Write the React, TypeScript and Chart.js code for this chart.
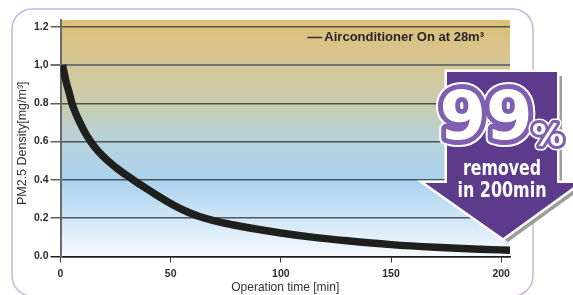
import React, { useEffect, useRef } from 'react';
import { Chart, registerables } from 'chart.js';

Chart.register(...registerables);

// ---- data ----
const timeMin = [0.9, 2.5, 4, 5.2, 7, 9, 11, 13.4, 16, 19, 22, 26, 30, 33.8, 38, 43, 48, 53, 58, 63, 70, 78, 86, 100, 115, 130, 150, 170, 190, 204];
const density = [1.0, 0.915, 0.853, 0.8, 0.745, 0.695, 0.65, 0.605, 0.565, 0.527, 0.495, 0.457, 0.424, 0.394, 0.362, 0.325, 0.29, 0.258, 0.231, 0.209, 0.186, 0.166, 0.149, 0.123, 0.1, 0.082, 0.062, 0.048, 0.038, 0.033];
const xTickValues = [0, 50, 100, 150, 200];
const yTickValues = [0, 0.2, 0.4, 0.6, 0.8, 1.0, 1.2];
const yTickLabels = ['0.0', '0.2', '0.4', '0.6', '0.8', '1,0', '1.2'];
const seriesLabel = 'Airconditioner On at 28m³';
const xTitle = 'Operation time [min]';
const yTitle = 'PM2.5 Density[mg/m³]';
const badgeNumber = '99';
const badgeSign = '%';
const badgeCaption = ['removed', 'in 200min'];

const FAMILY = '"Liberation Sans", Arial, Helvetica, sans-serif';
const NARROW = '"Liberation Sans Narrow", "DejaVu Sans Condensed", "Liberation Sans", sans-serif';
const PURPLE = '#5c3b8d';
const PURPLE_LIGHT = '#7e5fb0';

function roundRectPath(ctx: CanvasRenderingContext2D, x: number, y: number, w: number, h: number, r: number) {
  ctx.beginPath();
  ctx.moveTo(x + r, y);
  ctx.lineTo(x + w - r, y);
  ctx.arcTo(x + w, y, x + w, y + r, r);
  ctx.lineTo(x + w, y + h - r);
  ctx.arcTo(x + w, y + h, x + w - r, y + h, r);
  ctx.lineTo(x + r, y + h);
  ctx.arcTo(x, y + h, x, y + h - r, r);
  ctx.lineTo(x, y + r);
  ctx.arcTo(x, y, x + r, y, r);
  ctx.closePath();
}

const backgroundPlugin = {
  id: 'panelBackground',
  beforeDraw(chart: any) {
    const { ctx, chartArea: a } = chart;
    ctx.save();
    ctx.fillStyle = '#ffffff';
    ctx.fillRect(0, 0, chart.width, chart.height);
    roundRectPath(ctx, 12, 9, 521, 287, 20);
    ctx.strokeStyle = '#c6b8dd';
    ctx.lineWidth = 1.5;
    ctx.stroke();
    const g = ctx.createLinearGradient(0, a.top, 0, a.bottom);
    g.addColorStop(0, '#ddbf78');
    g.addColorStop(0.19, '#d5c796');
    g.addColorStop(0.35, '#c8ccae');
    g.addColorStop(0.51, '#b8d3dc');
    g.addColorStop(0.68, '#abd2ee');
    g.addColorStop(0.84, '#d0e6f7');
    g.addColorStop(1, '#f6fafe');
    ctx.fillStyle = g;
    ctx.fillRect(a.left, a.top, a.right - a.left, a.bottom - a.top);
    ctx.restore();
  },
};

const legendPlugin = {
  id: 'innerLegend',
  afterDatasetsDraw(chart: any) {
    const { ctx, chartArea: a } = chart;
    const label = chart.data.datasets[0].label as string;
    ctx.save();
    ctx.font = `bold 13px ${FAMILY}`;
    const w = ctx.measureText(label).width;
    const xEnd = a.right - 26;
    const x0 = xEnd - w;
    const y = a.top + 17.5;
    ctx.strokeStyle = '#333';
    ctx.lineWidth = 1.5;
    ctx.beginPath();
    ctx.moveTo(x0 - 17, y);
    ctx.lineTo(x0 - 2, y);
    ctx.stroke();
    ctx.fillStyle = '#262626';
    ctx.textAlign = 'left';
    ctx.textBaseline = 'middle';
    ctx.fillText(label, x0, y);
    ctx.restore();
  },
};

const yTitlePlugin = {
  id: 'yTitle',
  afterDraw(chart: any) {
    const { ctx, chartArea: a } = chart;
    ctx.save();
    ctx.translate(a.left - 38, (a.top + a.bottom) / 2 + 5);
    ctx.rotate(-Math.PI / 2);
    ctx.font = `12.5px ${FAMILY}`;
    ctx.fillStyle = '#333';
    ctx.textAlign = 'center';
    ctx.textBaseline = 'middle';
    ctx.fillText(yTitle, 0, 0);
    ctx.restore();
  },
};

function drawFitted(ctx: CanvasRenderingContext2D, text: string, cx: number, baseline: number, font: string, targetW: number) {
  ctx.save();
  ctx.font = font;
  const w = ctx.measureText(text).width;
  ctx.translate(cx, baseline);
  ctx.scale(targetW / w, 1);
  ctx.textAlign = 'center';
  ctx.textBaseline = 'alphabetic';
  ctx.fillText(text, 0, 0);
  ctx.restore();
}

function outlinedText(ctx: CanvasRenderingContext2D, text: string, x: number, y: number, font: string, inner: number, outer: number) {
  ctx.save();
  ctx.font = font;
  ctx.textAlign = 'center';
  ctx.textBaseline = 'alphabetic';
  ctx.lineJoin = 'round';
  ctx.strokeStyle = '#ffffff';
  ctx.lineWidth = outer;
  ctx.strokeText(text, x, y);
  ctx.strokeStyle = PURPLE_LIGHT;
  ctx.lineWidth = inner;
  ctx.strokeText(text, x, y);
  ctx.fillStyle = '#ffffff';
  ctx.fillText(text, x, y);
  ctx.restore();
}

const badgePlugin = {
  id: 'badge',
  afterDraw(chart: any) {
    const { ctx, chartArea: a } = chart;
    const cx = a.right - 8;
    const top = a.top + 52;
    const shoulder = top + 111;
    const tip = top + 166;
    const pts: [number, number][] = [
      [cx - 55, top], [cx + 55, top], [cx + 55, shoulder], [cx + 77, shoulder],
      [cx + 1, tip], [cx - 77, shoulder], [cx - 55, shoulder],
    ];
    const path = (dx: number, dy: number) => {
      ctx.beginPath();
      pts.forEach(([px, py], i) => (i ? ctx.lineTo(px + dx, py + dy) : ctx.moveTo(px + dx, py + dy)));
      ctx.closePath();
    };
    ctx.save();
    ctx.lineJoin = 'miter';
    path(5, 4);
    ctx.fillStyle = '#9d9d9d';
    ctx.fill();
    path(0, 0);
    ctx.strokeStyle = '#ffffff';
    ctx.lineWidth = 5;
    ctx.stroke();
    ctx.fillStyle = PURPLE;
    ctx.fill();
    ctx.restore();

    outlinedText(ctx, badgeNumber, cx - 16, top + 67, 'bold 67px "DejaVu Sans", sans-serif', 10, 14);
    outlinedText(ctx, badgeSign, cx + 46, top + 74, 'bold 32px "DejaVu Sans", sans-serif', 6, 9);

    ctx.save();
    ctx.fillStyle = '#ffffff';
    drawFitted(ctx, badgeCaption[0], cx, top + 103, `bold 21px ${NARROW}`, 78);
    drawFitted(ctx, badgeCaption[1], cx, top + 124.7, `bold 21px ${NARROW}`, 89);
    ctx.restore();
  },
};

export default function App() {
  const canvasRef = useRef<HTMLCanvasElement | null>(null);

  useEffect(() => {
    if (!canvasRef.current) return;
    const points = timeMin.map((t, i) => ({ x: t, y: density[i] }));
    const tickFont = { family: FAMILY, size: 10.5, weight: 'bold' as const };
    const chart = new Chart(canvasRef.current, {
      type: 'line',
      data: {
        datasets: [
          {
            label: seriesLabel,
            data: points,
            borderColor: '#1f1f1d',
            borderWidth: 7.5,
            borderCapStyle: 'butt',
            pointRadius: 0,
            cubicInterpolationMode: 'monotone',
            fill: false,
          },
        ],
      },
      options: {
        animation: false,
        responsive: false,
        devicePixelRatio: 1,
        events: [],
        layout: { padding: { top: 20, right: 63, bottom: 0, left: 0 } },
        plugins: { legend: { display: false }, tooltip: { enabled: false } },
        scales: {
          x: {
            type: 'linear',
            min: 0,
            max: 204,
            afterFit: (s: any) => { s.height = 38.5; },
            afterBuildTicks: (s: any) => { s.ticks = xTickValues.map((v) => ({ value: v })); },
            ticks: { autoSkip: false, maxRotation: 0, padding: 5, color: '#2e2e2e', font: tickFont },
            grid: { drawOnChartArea: false, drawTicks: true, tickLength: 6, color: '#333', lineWidth: 1 },
            border: { display: true, color: '#1e1e1e', width: 1.5 },
            title: { display: true, text: xTitle, color: '#333', font: { family: FAMILY, size: 12 }, padding: { top: 0, bottom: 0 } },
          },
          y: {
            type: 'linear',
            min: 0,
            max: 1.235,
            afterFit: (s: any) => { s.width = 60.5; },
            afterBuildTicks: (s: any) => { s.ticks = yTickValues.map((v) => ({ value: v })); },
            ticks: {
              autoSkip: false,
              padding: 2,
              color: '#2e2e2e',
              font: tickFont,
              callback: (_v: any, i: number) => yTickLabels[i],
            },
            grid: {
              tickLength: 10,
              color: (c: any) => (c.tick && Math.abs(c.tick.value - 1) < 1e-6 ? '#727272' : c.tick && c.tick.value === 0 ? '#1e1e1e' : 'rgba(35,35,35,0.72)'),
              lineWidth: (c: any) => (c.tick && Math.abs(c.tick.value - 1) < 1e-6 ? 2 : 1.5),
            },
            border: { display: true, color: '#6a6a6a', width: 2 },
            title: { display: false },
          },
        },
      },
      plugins: [backgroundPlugin, legendPlugin, yTitlePlugin, badgePlugin],
    });
    return () => chart.destroy();
  }, []);

  return (
    <div style={{ position: 'absolute', left: 0, top: 0, width: 573, height: 295 }}>
      <canvas ref={canvasRef} width={573} height={295} />
    </div>
  );
}
